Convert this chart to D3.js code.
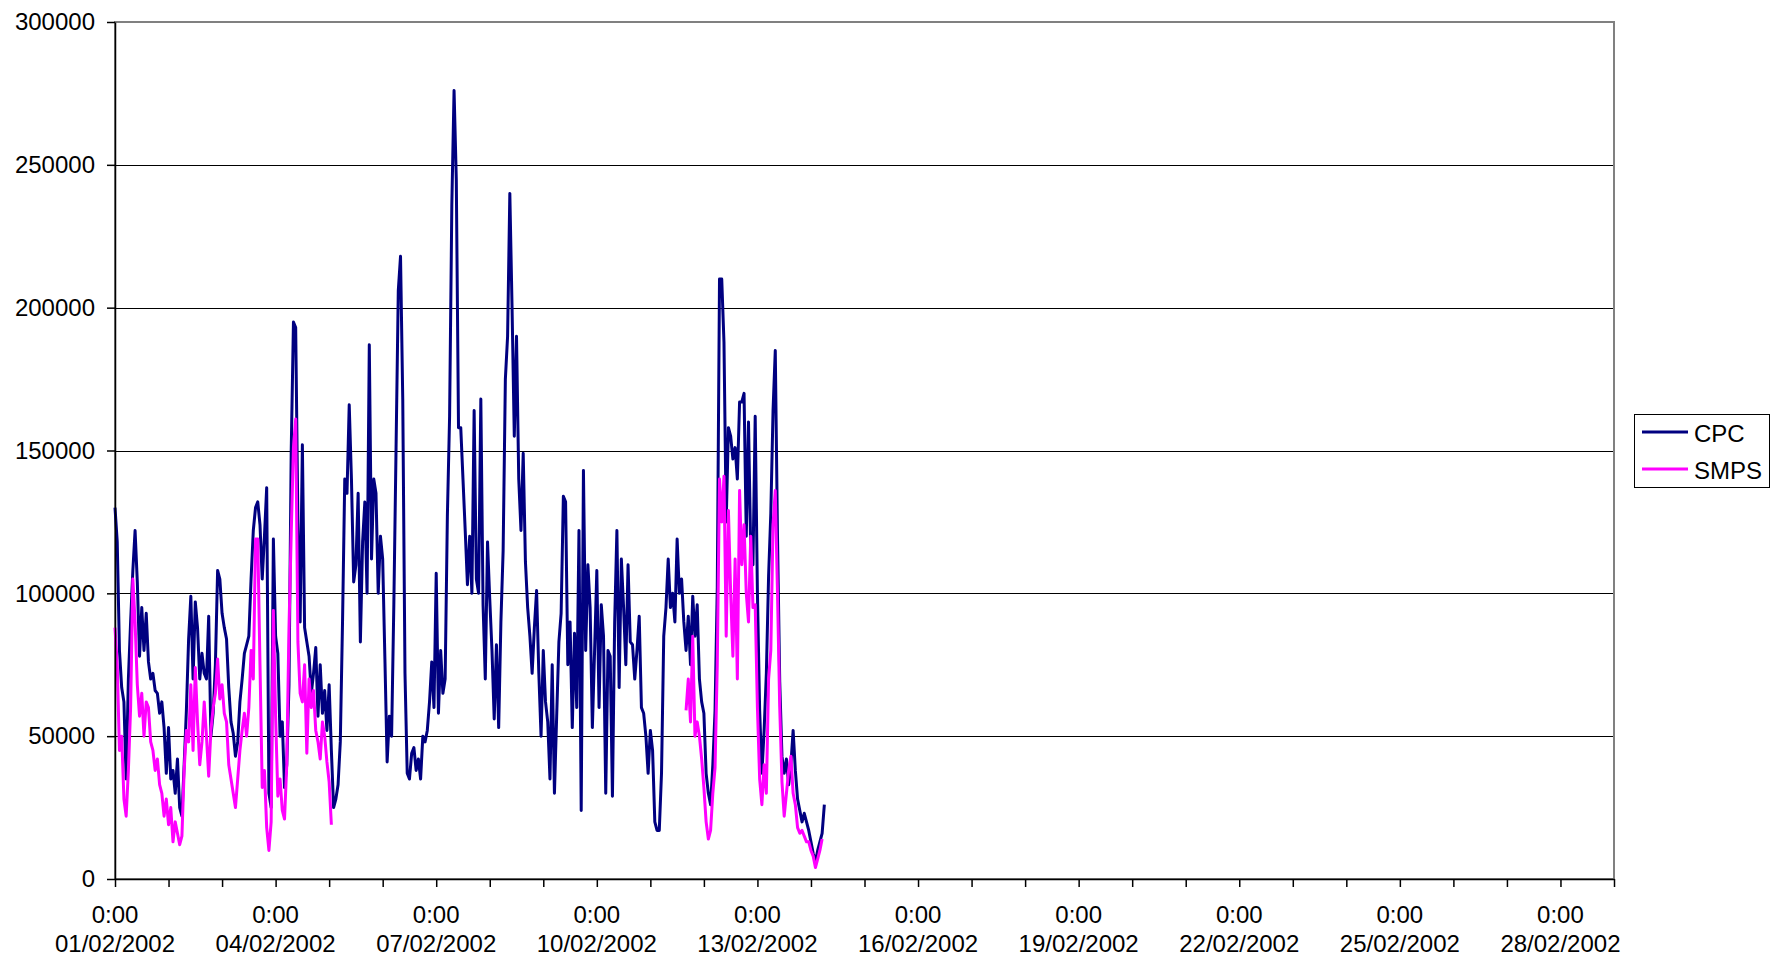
<!DOCTYPE html>
<html>
<head>
<meta charset="utf-8">
<script src="https://cdn.jsdelivr.net/npm/d3@7"></script>
<style>
	body { margin: 0; background: #fff; }
	svg { display: block; font-family: "Liberation Sans", Arial, sans-serif; }
</style>
</head>
<body>
<div id="chart"></div>
<script>
//------------------------------------------------------------------------------
// hourly readings (thousands per cm3), first reading at 0:00 01/02/2002
var seriesStart = Date.UTC(2002, 1, 1, 0);

var cpc = [
	130,118,80,67,62,35,70,90,108,122,104,78,95,80,93,76,70,72,66,65,58,62,53,37,
	53,35,38,30,42,25,22,40,59,84,99,70,97,88,70,79,72,70,92,50,58,75,108,105,
	93,88,84,67,55,51,43,48,62,70,79,82,85,105,122,130,132,124,105,120,137,30,25,119,
	85,79,50,55,32,40,68,150,195,193,125,90,152,88,83,78,65,72,81,57,75,58,66,52,
	68,45,25,28,33,48,90,140,135,166,140,104,110,135,83,118,132,100,187,112,140,135,100,120,
	112,77,41,57,50,96,151,206,218,168,72,37,35,44,46,38,42,35,50,48,52,62,76,60,
	107,58,80,65,70,127,162,236,276,245,158,158,140,122,103,120,100,164,105,100,168,96,70,118,
	98,80,56,82,53,90,115,175,190,240,200,155,190,140,122,149,111,95,85,72,88,101,72,50,
	80,62,55,35,75,30,57,83,93,134,132,75,90,53,86,60,122,24,143,80,110,95,53,80,
	108,60,96,85,30,80,78,29,90,122,67,112,95,75,110,83,82,70,80,92,60,58,50,37,
	52,45,20,17,17,37,85,95,112,95,100,90,119,100,105,90,80,92,75,99,85,96,70,62,
	58,37,30,26,40,59,102,210,210,188,125,158,155,147,151,140,167,167,170,120,160,115,110,162,
	100,59,37,52,72,106,128,164,185,120,69,43,37,42,33,40,52,38,28,24,20,23,20,17,
	13,9,6,10,13,16,26
];

// SMPS was only running for two stretches
var smpsFirstStart = 0;		// hours after series start
var smpsFirst = [
	88,75,45,50,28,22,38,60,105,90,68,57,65,50,62,60,48,45,38,42,33,30,22,28,
	19,25,13,20,16,12,15,38,52,48,68,45,74,55,40,48,62,50,36,52,60,65,77,63,
	68,58,55,40,35,30,25,35,45,52,58,50,60,80,70,119,119,75,32,38,18,10,20,94,
	57,29,35,24,21,40,88,121,151,161,83,65,62,75,44,70,60,66,52,48,42,55,50,41,
	34,19
];
var smpsSecondStart = 256;
var smpsSecond = [
	59,70,55,85,50,55,50,42,32,20,14,17,30,39,75,140,125,141,85,129,100,78,112,70,
	136,110,124,100,90,120,95,96,60,35,26,40,30,70,80,124,136,100,60,34,22,30,38,43,
	30,26,18,16,17,15,13,13,10,8,4,7,10,14
];

var yTicks = [0, 50000, 100000, 150000, 200000, 250000, 300000];
var labelDays = [1, 4, 7, 10, 13, 16, 19, 22, 25, 28];	// february days carrying a label
var legendNames = ['CPC', 'SMPS'];
var legendColors = ['#000080', '#ff00ff'];

//------------------------------------------------------------------------------
var W = 1771, H = 957;
var m = {l: 115, r: 1614, t: 22, b: 879};

var x = d3.scaleUtc()
	.domain([new Date(Date.UTC(2002, 1, 1)), new Date(Date.UTC(2002, 2, 1))])
	.range([m.l, m.r]);
var y = d3.scaleLinear().domain([0, 300000]).range([m.b, m.t]);

var svg = d3.select('#chart').append('svg')
	.attr('width', W)
	.attr('height', H);

// horizontal gridlines
svg.append('g').selectAll('line')
	.data(yTicks.filter(function(d) { return d > 0 && d < 300000; }))
	.enter().append('line')
	.attr('x1', m.l).attr('x2', m.r)
	.attr('y1', function(d) { return Math.round(y(d)) + 0.5; })
	.attr('y2', function(d) { return Math.round(y(d)) + 0.5; })
	.attr('stroke', '#000')
	.attr('stroke-width', 1);

// plot area border (grey)
svg.append('rect')
	.attr('x', m.l).attr('y', m.t)
	.attr('width', m.r - m.l).attr('height', m.b - m.t)
	.attr('fill', 'none')
	.attr('stroke', '#808080')
	.attr('stroke-width', 2);

// series
function hourLine(start) {
	return d3.line()
		.x(function(d, i) { return x(new Date(seriesStart + (start + i) * 3600e3)); })
		.y(function(d) { return y(d * 1000); });
}

svg.append('path')
	.datum(cpc)
	.attr('d', hourLine(0))
	.attr('fill', 'none')
	.attr('stroke', legendColors[0])
	.attr('stroke-width', 3)
	.attr('stroke-linejoin', 'round');

[[smpsFirst, smpsFirstStart], [smpsSecond, smpsSecondStart]].forEach(function(s) {
	svg.append('path')
		.datum(s[0])
		.attr('d', hourLine(s[1]))
		.attr('fill', 'none')
		.attr('stroke', legendColors[1])
		.attr('stroke-width', 3)
		.attr('stroke-linejoin', 'round');
});

// y axis
var yAxis = svg.append('g')
	.attr('transform', 'translate(' + m.l + ',0)')
	.call(d3.axisLeft(y).tickValues(yTicks).tickSize(8).tickSizeOuter(0).tickPadding(12)
		.tickFormat(d3.format('d')));
yAxis.selectAll('text').attr('font-size', 24).attr('fill', '#000').attr('font-family', null);
yAxis.selectAll('line, path').attr('stroke', '#000').attr('stroke-width', 1.5);

// x axis, a tick every day
var xAxis = svg.append('g')
	.attr('transform', 'translate(0,' + m.b + ')')
	.call(d3.axisBottom(x).ticks(d3.utcDay.every(1)).tickSize(8).tickSizeOuter(0).tickFormat(''));
xAxis.selectAll('line, path').attr('stroke', '#000').attr('stroke-width', 1.5);

// two-line labels every third day
var fmt = d3.utcFormat('%d/%m/%Y');
var lbl = svg.append('g').selectAll('text')
	.data(labelDays.map(function(d) { return new Date(Date.UTC(2002, 1, d)); }))
	.enter().append('text')
	.attr('text-anchor', 'middle')
	.attr('font-size', 24)
	.attr('fill', '#000');
lbl.append('tspan')
	.attr('x', function(d) { return x(d); })
	.attr('y', 923)
	.text('0:00');
lbl.append('tspan')
	.attr('x', function(d) { return x(d); })
	.attr('y', 952)
	.text(function(d) { return fmt(d); });

// legend
var lg = svg.append('g');
lg.append('rect')
	.attr('x', 1634.5).attr('y', 414.5)
	.attr('width', 135).attr('height', 73)
	.attr('fill', '#fff')
	.attr('stroke', '#000');
legendNames.forEach(function(name, i) {
	var ly = 432 + i * 37;
	lg.append('line')
		.attr('x1', 1642).attr('x2', 1688)
		.attr('y1', ly).attr('y2', ly)
		.attr('stroke', legendColors[i])
		.attr('stroke-width', 3);
	lg.append('text')
		.attr('x', 1694).attr('y', ly + 10)
		.attr('font-size', 24)
		.attr('fill', '#000')
		.text(name);
});
</script>
</body>
</html>
